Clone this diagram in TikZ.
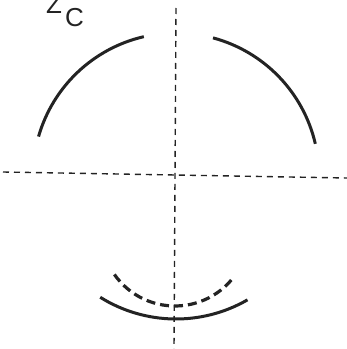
\documentclass[tikz,border=0pt]{standalone}
\usepackage{fontspec}
\setmainfont{Liberation Sans}
\usetikzlibrary{calc}
\definecolor{inkGray}{RGB}{35,35,35}

\begin{document}
\begin{tikzpicture}[x=1pt, y=1pt,
    axis/.style={draw=inkGray, line width=1.4pt, dash pattern=on 6pt off 5pt},
    mirror/.style={draw=inkGray, line width=3pt},
    image/.style={draw=inkGray, line width=3.2pt, dash pattern=on 9pt off 5pt},
    tag/.style={inner sep=0pt, anchor=base west, font=\fontsize{26}{26}\selectfont, text=inkGray}
  ]
  \useasboundingbox (0,0) rectangle (347,349);

  % axes
  \coordinate (vtop) at (176,341);
  \coordinate (vbot) at (174,0);
  \coordinate (hlft) at (3,177);
  \coordinate (hrgt) at (347,171);
  \draw[axis] (vtop) -- (vbot);
  \draw[axis] (hlft) -- (hrgt);

  % mirror arcs on one circle
  \coordinate (ctr) at (176,173);
  \draw[mirror] ($(ctr)+(164:143)$) arc[start angle=164, end angle=103, radius=143];
  \draw[mirror] ($(ctr)+(75:143)$)  arc[start angle=75,  end angle=13,  radius=143];
  \draw[mirror] ($(ctr)+(238:143)$) arc[start angle=238, end angle=300, radius=143];

  % dashed curve
  \coordinate (ictr) at (175,117);
  \draw[image] ($(ictr)+(215:74)$) arc[start angle=215, end angle=323, radius=74];

  \node[tag] (zc) at (46,335) {Z\kern3pt\raisebox{-13pt}{C}};
\end{tikzpicture}
\end{document}
